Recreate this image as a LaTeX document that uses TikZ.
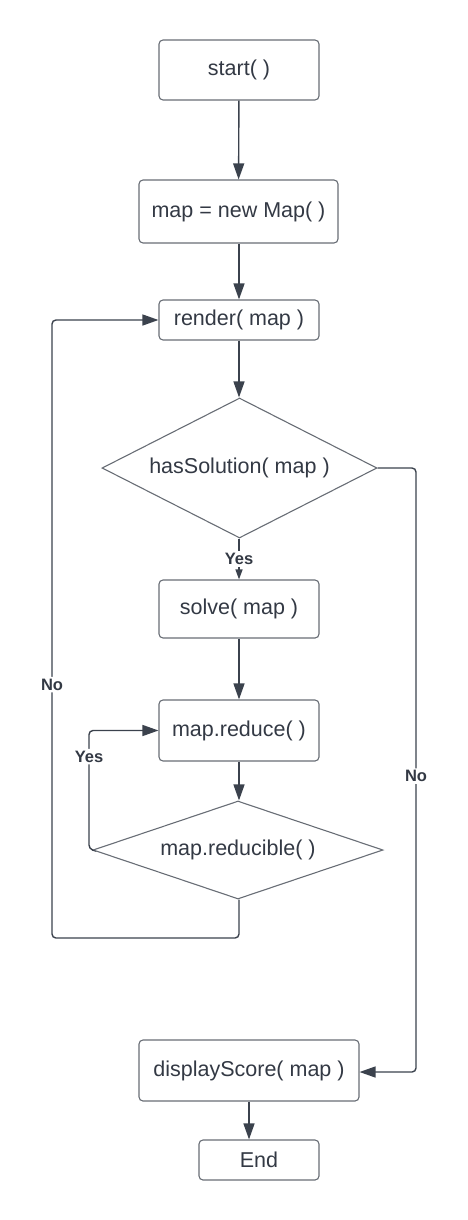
\documentclass[tikz,border=0pt]{standalone}
\usepackage{fontspec}
\setmainfont{Liberation Sans}
\usetikzlibrary{shapes.geometric,arrows.meta}
\definecolor{linecol}{RGB}{59,66,77}
\definecolor{textcol}{RGB}{51,57,68}
\definecolor{boxcol}{RGB}{104,109,117}
\tikzset{
  procbox/.style={draw=boxcol, line width=1.1pt, rounded corners=4pt, inner sep=0pt,
    text=textcol, font=\fontsize{21.5}{25}\selectfont},
  decbox/.style={diamond, draw=boxcol, line width=1.1pt, inner sep=0pt,
    text=textcol, font=\fontsize{21.5}{25}\selectfont},
  flow/.style={draw=linecol, line width=1.4pt, rounded corners=4pt,
    -{Triangle[length=16pt,width=11pt]}},
  lbl/.style={fill=white, inner sep=2pt, text=textcol, font=\bfseries\fontsize{16.5}{19}\selectfont}
}
\begin{document}
\begin{tikzpicture}[x=1pt, y=-1pt]
\useasboundingbox (0,0) rectangle (468,1220);
% main column
\node[procbox, minimum width=160pt, minimum height=60pt] (start) at (239,70) {start( )};
\node[procbox, minimum width=199pt, minimum height=63pt] (newmap) at (238.5,211.5) {map = new Map( )};
\node[procbox, minimum width=160pt, minimum height=40pt] (render) at (239,320) {render( map )};
\node[decbox, aspect=1.96, minimum width=275pt, minimum height=140pt] (hassol) at (239.5,468) {hasSolution( map )};
\node[procbox, minimum width=160pt, minimum height=58pt] (solve) at (239,609) {solve( map )};
\node[procbox, minimum width=160pt, minimum height=61pt] (reduce) at (239,730.5) {map.reduce( )};
\node[decbox, aspect=2.96, minimum width=290pt, minimum height=98pt] (reducible) at (238,850) {map.reducible( )};
\node[procbox, minimum width=220pt, minimum height=61pt] (score) at (249,1070.5) {displayScore( map )};
\node[procbox, minimum width=120pt, minimum height=40pt] (finish) at (259,1160) {End};
% straight arrows
\draw[flow] (start) -- (newmap);
\draw[flow] (newmap.south -| render) -- (render);
\draw[flow] (render) -- (hassol.north -| render);
\draw[flow, -{Triangle[length=10pt,width=7pt]}] (hassol.south -| solve) -- node[lbl] {Yes} (solve);
\draw[flow] (solve) -- (reduce);
\draw[flow] (reduce) -- (reduce |- reducible.north);
\draw[flow] (score.south) -- (score.south |- finish.north);
% reduce loop
\draw[flow] (reducible.west) -- (89,849) -- node[lbl, pos=0.78] {Yes} (89,730.5) -- (reduce.west);
% back to render
\draw[flow] (reducible.south -| reduce) -- (239,938) -- (52,938) -- node[lbl, pos=0.41] {No} (52,320) -- (render.west);
% no solution
\draw[flow] (hassol.east) -- (416,468) -- node[lbl, pos=0.51] {No} (416,1072) -- (score.east |- 0,1072);
\end{tikzpicture}
\end{document}
